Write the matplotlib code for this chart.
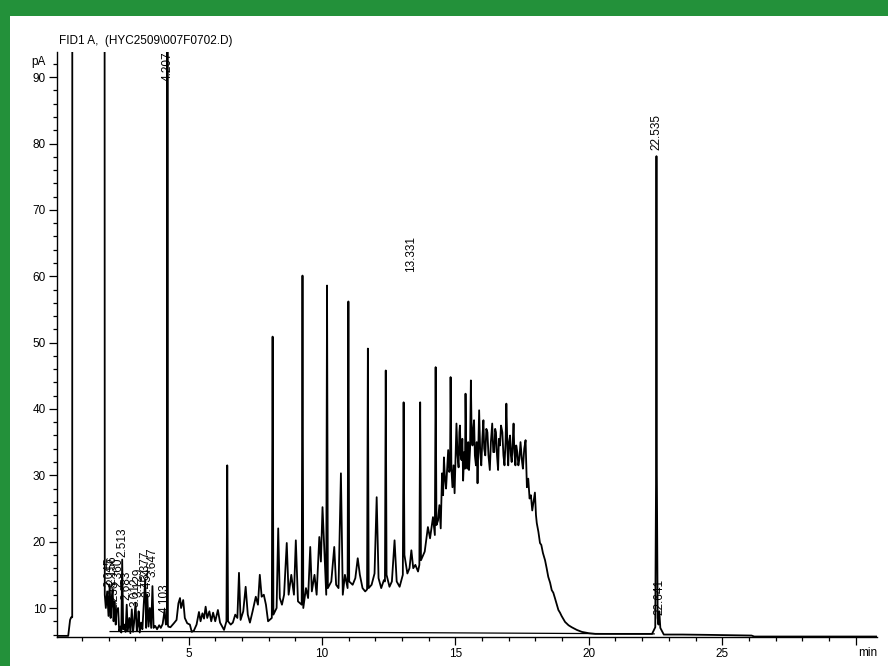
import matplotlib
matplotlib.use("Agg")
import matplotlib.pyplot as plt
from matplotlib.patches import Rectangle
from matplotlib.ticker import MultipleLocator, FixedLocator

plt.rcParams['font.family'] = ['Liberation Sans', 'DejaVu Sans']

# FID1 A signal (min, pA), in pieces
solvent_min = [0.07, 0.49, 0.56, 0.60, 0.64, 0.66, 1.82, 1.86]
solvent_pa = [5.8, 5.8, 8.2, 8.6, 8.6, 600, 600, 12.0]

early_min = [1.90, 1.95, 2.00, 2.045, 2.08, 2.12, 2.156, 2.19, 2.236, 2.27, 2.30, 2.36,
             2.40, 2.45, 2.48, 2.513, 2.55, 2.60, 2.64, 2.683, 2.72, 2.78, 2.82, 2.873,
             2.92, 2.96, 3.012, 3.06, 3.10, 3.129, 3.17, 3.22, 3.27, 3.32, 3.377, 3.41,
             3.454, 3.50, 3.55, 3.60, 3.647, 3.69, 3.75, 3.82, 3.90, 3.96, 4.03, 4.103,
             4.15, 4.19, 4.207, 4.225, 4.24]
early_pa = [10.0, 12.5, 8.8, 13.5, 8.5, 11.5, 12.8, 8.0, 11.0, 7.5, 9.5, 10.0,
            6.5, 7.2, 6.3, 17.3, 6.8, 7.5, 6.4, 10.5, 6.5, 8.5, 6.2, 9.8,
            6.4, 7.8, 10.8, 6.6, 7.5, 9.5, 6.3, 7.8, 6.8, 10.5, 14.3, 7.0,
            12.0, 7.2, 10.0, 7.0, 13.3, 7.0, 7.3, 6.8, 7.4, 7.0, 7.6, 9.7,
            7.5, 8.0, 600, 7.5, 7.2]

mid_min = [4.32, 4.45, 4.55, 4.62, 4.68, 4.72, 4.80, 4.86, 4.95, 5.05, 5.12, 5.20,
           5.30, 5.39, 5.45, 5.52, 5.58, 5.64, 5.70, 5.78, 5.85, 5.92, 6.00, 6.10,
           6.18, 6.26, 6.33, 6.42, 6.45, 6.48, 6.58, 6.66, 6.75, 6.83, 6.89, 6.95,
           7.05, 7.14, 7.22, 7.30, 7.40, 7.52, 7.60, 7.67, 7.74, 7.82, 7.90, 7.98,
           8.12, 8.15, 8.18, 8.30, 8.36, 8.42, 8.50, 8.58, 8.68, 8.75, 8.85, 8.95,
           9.02, 9.10, 9.24, 9.27, 9.30, 9.40, 9.48, 9.56, 9.62, 9.72, 9.80, 9.90,
           9.96, 10.02, 10.16, 10.19, 10.22, 10.35, 10.46, 10.53, 10.62, 10.71,
           10.78, 10.86, 10.96, 10.99, 11.02, 11.15, 11.25, 11.34, 11.42, 11.52,
           11.62, 11.69, 11.72, 11.75, 11.86, 11.97, 12.05, 12.12, 12.22, 12.32,
           12.36, 12.39, 12.42, 12.53, 12.62, 12.72, 12.80, 12.91, 13.03, 13.06,
           13.09, 13.20, 13.28, 13.35, 13.42, 13.50, 13.60, 13.65, 13.68, 13.71,
           13.85, 13.97, 14.05, 14.16, 14.23, 14.26, 14.29, 14.35]
mid_pa = [7.1, 7.7, 8.2, 10.7, 11.5, 10.0, 11.2, 8.5, 7.7, 7.5, 6.4, 6.6,
          7.5, 9.4, 8.0, 9.2, 8.4, 10.2, 8.5, 9.5, 8.0, 9.3, 8.0, 9.7,
          7.8, 7.2, 6.7, 8.0, 31.5, 8.0, 7.5, 7.8, 9.0, 8.5, 15.3, 8.2,
          9.5, 13.2, 9.0, 7.8, 9.5, 11.7, 10.5, 15.0, 11.7, 12.0, 10.5, 8.0,
          8.5, 50.9, 9.0, 10.0, 22.0, 11.5, 10.5, 12.0, 19.8, 12.0, 15.0, 12.0,
          20.2, 11.0, 10.5, 60.1, 10.0, 13.0, 11.5, 19.2, 12.5, 15.0, 12.0, 20.7,
          17.0, 25.2, 12.0, 58.6, 13.0, 14.0, 19.2, 13.5, 13.0, 30.3,
          12.0, 15.0, 13.0, 56.2, 14.0, 13.5, 14.5, 17.5, 15.0, 13.0,
          12.5, 12.8, 49.1, 13.0, 13.5, 15.2, 26.7, 14.5, 13.0, 14.2,
          14.0, 45.8, 15.0, 13.2, 14.0, 20.2, 14.0, 13.2, 15.0, 41.0,
          18.0, 15.2, 16.0, 18.7, 16.0, 16.5, 15.5, 16.5, 41.0, 17.2,
          18.5, 22.2, 20.5, 23.7, 21.0, 46.3, 22.5, 23.2]

hump_min = [14.40, 14.45, 14.50, 14.54, 14.57, 14.61, 14.65, 14.69, 14.73, 14.77,
            14.80, 14.82, 14.85, 14.89, 14.93, 14.97, 15.01, 15.04, 15.08, 15.12,
            15.15, 15.17, 15.20, 15.23, 15.26, 15.29, 15.33, 15.36, 15.38, 15.41,
            15.45, 15.48, 15.51, 15.55, 15.58, 15.61, 15.64, 15.67, 15.70, 15.73,
            15.77, 15.80, 15.83, 15.86, 15.89, 15.93, 15.97, 16.01, 16.05, 16.08,
            16.12, 16.16, 16.20, 16.24, 16.29, 16.33, 16.38, 16.42, 16.46, 16.49,
            16.52, 16.56, 16.60, 16.63, 16.67, 16.71, 16.76, 16.80, 16.84, 16.88,
            16.91, 16.95, 16.98, 17.01, 17.05, 17.08, 17.11, 17.15, 17.18, 17.21,
            17.25, 17.28, 17.32, 17.36, 17.40, 17.44, 17.47, 17.50, 17.53, 17.58,
            17.63]
hump_pa = [25.5, 22.0, 30.3, 27.0, 32.7, 29.5, 28.0, 31.0, 33.8, 30.5,
           31.0, 44.8, 31.0, 28.2, 31.5, 27.3, 33.0, 37.8, 33.0, 31.2,
           36.5, 37.5, 33.0, 32.3, 35.5, 29.2, 33.5, 31.0, 42.3, 33.0,
           31.0, 35.0, 30.8, 34.0, 44.3, 36.0, 34.5, 37.0, 38.3, 33.0,
           31.5, 35.0, 28.8, 34.0, 39.8, 33.5, 31.5, 35.5, 38.3, 34.0,
           33.0, 37.0, 36.5, 33.0, 30.8, 35.0, 37.8, 33.5, 33.5, 37.0,
           36.5, 33.0, 30.8, 35.5, 34.5, 37.5, 36.5, 33.0, 31.5, 35.0,
           40.8, 34.0, 31.5, 35.0, 36.0, 33.0, 32.0, 35.0, 37.8, 33.5,
           31.5, 34.5, 33.5, 31.5, 32.5, 35.0, 33.5, 32.0, 31.0, 34.0,
           35.3]

tail_min = [17.68, 17.73, 17.78, 17.83, 17.88, 17.93, 17.98, 18.02, 18.05, 18.11,
            18.17, 18.22, 18.28, 18.36, 18.42, 18.48, 18.55, 18.61, 18.67, 18.73,
            18.80, 18.86, 18.92, 18.98, 19.05, 19.11, 19.24, 19.36, 19.55, 19.74,
            20.00, 20.24, 21.37, 22.37, 22.49, 22.52, 22.535, 22.55, 22.58, 22.61,
            22.641, 22.68, 22.81, 23.50, 24.50, 26.10, 26.20, 30.80]
tail_pa = [28.2, 29.5, 26.5, 27.0, 24.7, 26.0, 27.4, 24.0, 22.8, 21.5,
           19.8, 19.5, 18.3, 17.2, 16.0, 14.7, 13.8, 12.7, 12.3, 11.5,
           10.5, 9.7, 9.3, 8.8, 8.3, 7.9, 7.4, 7.1, 6.7, 6.4,
           6.2, 6.1, 6.1, 6.1, 7.1, 30.0, 78.1, 30.0, 8.5, 7.5,
           9.5, 7.0, 6.0, 6.0, 5.95, 5.85, 5.7, 5.7]

# integration baseline
baseline_min = [2.06, 4.20, 4.25, 7.70, 22.45]
baseline_pa = [6.45, 6.45, 6.45, 6.40, 6.10]

# peak labels (retention time text, label foot height in pA)
label_text = ["2.045", "2.156", "2.236", "2.360", "2.513", "2.683", "3.012", "3.129",
              "3.377", "3.454", "3.647", "4.103", "4.207", "13.331", "22.535", "22.641"]
label_pa = [13.2, 13.5, 9.7, 13.2, 17.7, 11.2, 10.2, 11.7,
            14.2, 11.7, 14.7, 9.2, 89.4, 60.6, 79.1, 8.9]

time_min = solvent_min + early_min + mid_min + hump_min + tail_min
signal_pa = solvent_pa + early_pa + mid_pa + hump_pa + tail_pa

fig = plt.figure(figsize=(8.88, 6.66), dpi=100)
fig.patch.set_facecolor('#23913a')
fig.patches.append(Rectangle((10 / 888, 0), 1, 1 - 16 / 666, transform=fig.transFigure,
                             facecolor='white', edgecolor='none', zorder=-10))

ax = fig.add_axes([57 / 888, 1 - 637 / 666, (877 - 57) / 888, (637 - 52) / 666])
ax.set_facecolor('none')
ax.plot(time_min, signal_pa, color='black', lw=1.3)
ax.plot(baseline_min, baseline_pa, color='black', lw=0.9)

for txt, y in zip(label_text, label_pa):
    ax.text(float(txt), y, txt, rotation=90, ha='center', va='bottom', fontsize=8.5)

ax.set_xlim(0.07, 30.8)
ax.set_ylim(5.63, 93.8)
for s in ['top', 'right']:
    ax.spines[s].set_visible(False)
for s in ['left', 'bottom']:
    ax.spines[s].set_linewidth(1.0)

ax.xaxis.set_major_locator(FixedLocator([5, 10, 15, 20, 25, 30]))
ax.set_xticklabels(['5', '10', '15', '20', '25', ''])
ax.xaxis.set_minor_locator(MultipleLocator(1))
ax.yaxis.set_major_locator(FixedLocator([10, 20, 30, 40, 50, 60, 70, 80, 90]))
ax.yaxis.set_minor_locator(MultipleLocator(2))
ax.tick_params(which='major', direction='out', length=6, width=0.9, labelsize=8.5, pad=2)
ax.tick_params(which='minor', direction='out', length=3, width=0.9)

ax.annotate('pA', xy=(0, 92.3), xycoords=('axes fraction', 'data'), xytext=(-8.5, 0),
            textcoords='offset points', ha='right', va='center', fontsize=8.5)
ax.annotate('min', xy=(30, 0), xycoords=('data', 'axes fraction'), xytext=(1.5, -7.5),
            textcoords='offset points', ha='left', va='top', fontsize=8.5)

fig.text(59 / 888, 1 - 41 / 666, 'FID1 A,  (HYC2509\\007F0702.D)', ha='left', va='center',
         fontsize=8.5)

fig.savefig('out.png', dpi=100, facecolor=fig.get_facecolor())
